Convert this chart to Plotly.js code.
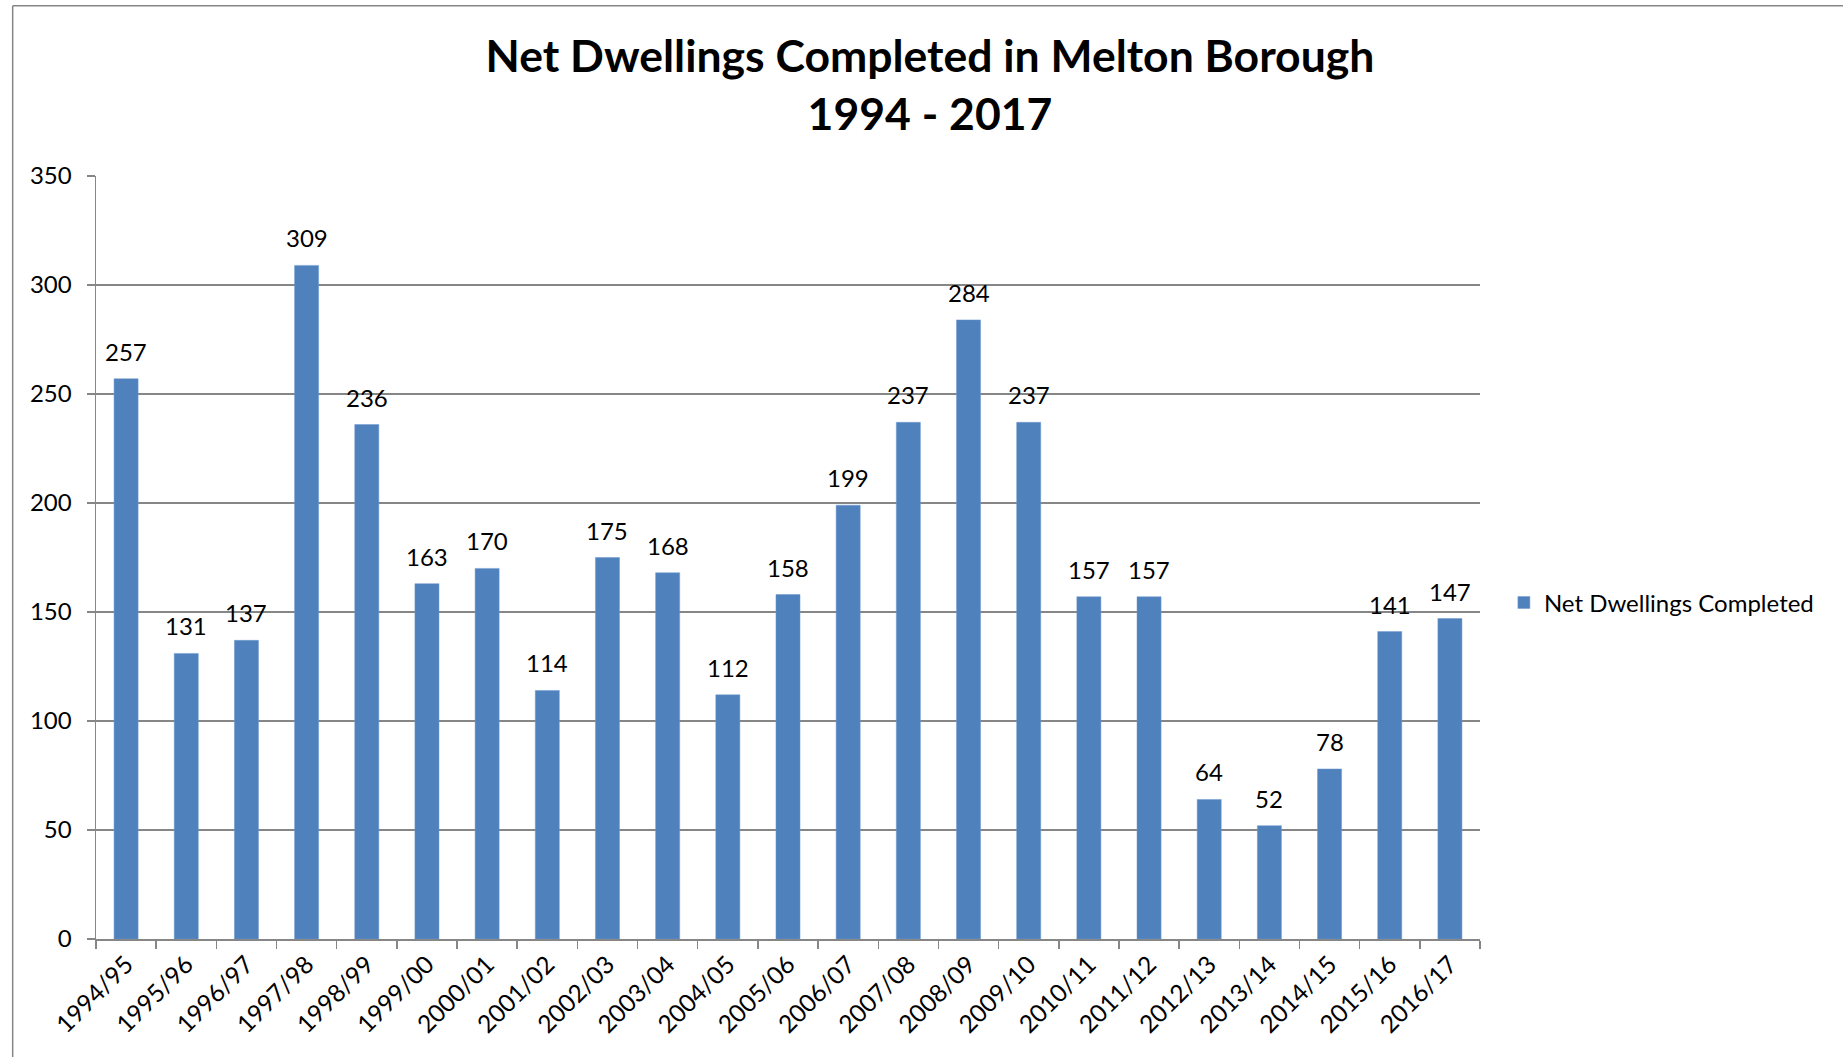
<!DOCTYPE html>
<html>
<head>
<meta charset="utf-8">
<script src="https://cdn.plot.ly/plotly-3.0.1.min.js"></script>
<style>
html,body{margin:0;padding:0;background:#fff;}
#chart{width:1843px;height:1057px;}
</style>
</head>
<body>
<div id="chart"></div>
<script>
const years = ["1994/95","1995/96","1996/97","1997/98","1998/99","1999/00","2000/01","2001/02","2002/03","2003/04","2004/05","2005/06","2006/07","2007/08","2008/09","2009/10","2010/11","2011/12","2012/13","2013/14","2014/15","2015/16","2016/17"];
const completed = [257,131,137,309,236,163,170,114,175,168,112,158,199,237,284,237,157,157,64,52,78,141,147];
const seriesName = "Net Dwellings Completed";
const yTicks = [0,50,100,150,200,250,300,350];

const FONT = "Lato, 'Open Sans', sans-serif";
const GRID = "#868686";

const trace = {
  type: "bar",
  x: years,
  y: completed,
  name: seriesName,
  marker: {color: "#4F81BD", line: {color: "#6F9AD0", width: 0.5}},
  showlegend: true,
  hoverinfo: "skip"
};

const valueLabels = years.map((c, i) => ({
  x: c, y: completed[i], xref: "x", yref: "y",
  text: String(completed[i]), showarrow: false,
  yanchor: "bottom", yshift: 11,
  font: {family: FONT, size: 24, color: "#000"}
}));

const layout = {
  width: 1843, height: 1057,
  margin: {l: 96, r: 363, t: 176, b: 118, pad: 0},
  paper_bgcolor: "#fff", plot_bgcolor: "#fff",
  font: {family: FONT, size: 24, color: "#000"},
  title: {
    text: "Net Dwellings Completed in Melton Borough<br>1994 - 2017",
    font: {family: FONT, size: 44.5, color: "#000", weight: "bold"},
    x: 0.5046, xanchor: "center", xref: "container",
    y: 0.932, yanchor: "middle", yref: "container"
  },
  bargap: 0.6,
  xaxis: {
    type: "category",
    showline: true, linecolor: GRID, linewidth: 1.5,
    ticks: "outside", tickson: "boundaries", ticklen: 8, tickcolor: GRID, tickwidth: 1.5,
    tickangle: -45,
    tickfont: {family: FONT, size: 24.5, color: "#000"},
    showgrid: false, zeroline: false
  },
  yaxis: {
    range: [0, 350], tickvals: yTicks,
    showline: true, linecolor: GRID, linewidth: 1.5,
    ticks: "outside", ticklen: 8, tickcolor: GRID, tickwidth: 1.5,
    showgrid: true, gridcolor: GRID, gridwidth: 1.2,
    zeroline: false,
    tickfont: {family: FONT, size: 24, color: "#000"},
    ticklabelstandoff: 10
  },
  legend: {
    xref: "container", yref: "container",
    x: 0.816, y: 0.4296, xanchor: "left", yanchor: "middle",
    font: {family: FONT, size: 24, color: "#000"},
    bgcolor: "rgba(0,0,0,0)"
  },
  annotations: valueLabels,
  shapes: [
    {type: "line", xref: "paper", yref: "paper", x0: -0.0602, x1: -0.0602, y0: -0.2, y1: 1.2230,
     line: {color: GRID, width: 1.5}},
    {type: "line", xref: "paper", yref: "paper", x0: -0.0602, x1: 1.3, y0: 1.2230, y1: 1.2230,
     line: {color: GRID, width: 1.5}}
  ]
};

Plotly.newPlot("chart", [trace], layout, {staticPlot: true, displayModeBar: false});
</script>
</body>
</html>
